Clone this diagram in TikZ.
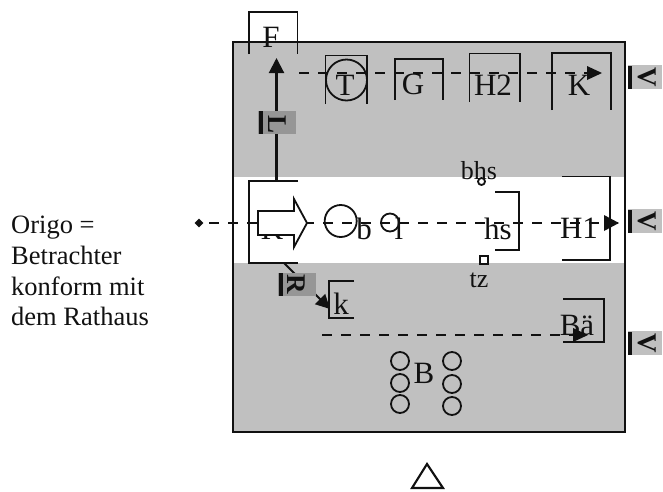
\documentclass[tikz,border=0pt]{standalone}
\usepackage{fontspec}
\setmainfont{Liberation Serif}
\usetikzlibrary{arrows.meta,shapes.geometric}
\definecolor{band}{HTML}{C0C0C0}
\definecolor{tag}{HTML}{969696}
\definecolor{ink}{HTML}{111111}
\tikzset{
  x=1pt,y=-1pt,
  ln/.style={draw=ink,line width=2.1pt},
  brk/.style={draw=ink,line width=1.8pt},
  dashline/.style={draw=ink,line width=2.5pt,dash pattern=on 10pt off 9pt},
  tipped/.style={-{Triangle[length=15pt,width=15pt]}},
  big/.style={inner sep=0pt,anchor=base,text=ink,font=\fontsize{31}{31}\selectfont},
  small/.style={inner sep=0pt,anchor=base,text=ink,font=\fontsize{26}{26}\selectfont},
  side/.style={inner sep=0pt,anchor=base west,text=ink,font=\fontsize{26.5}{26.5}\selectfont},
  ring/.style={circle,draw=ink,line width=1.8pt,inner sep=0pt,fill=none},
  tagbox/.style={fill=tag,inner sep=0pt,minimum width=38pt,minimum height=23pt},
  tagv/.style={fill=band,inner sep=0pt,minimum width=34pt,minimum height=24pt},
  bar/.style={fill=ink,inner sep=0pt,minimum width=4pt,minimum height=23pt},
  rot/.style={inner sep=0pt,text=ink,font=\bfseries\fontsize{27}{27}\selectfont}
}
\begin{document}
\begin{tikzpicture}
\useasboundingbox (0,0) rectangle (663,491);
% bands
\fill[band] (233,42) rectangle (624,177);
\fill[band] (233,263) rectangle (624,432);
\draw[ln] (233,42) rectangle (625,432);
% F
\draw[brk] (249,54) -- (249,12) -- (297.5,12) -- (297.5,54);
\node[big] (F) at (271,47) {F};
% vertical arrow
\coordinate (ftop) at (276.5,58);
\coordinate (rtop) at (276.5,181);
\draw[ln,tipped] (rtop) -- (ftop);
% top row
\draw[brk] (325.5,104) -- (325.5,55.5) -- (367,55.5) -- (367,104);
\node[ring,minimum size=41pt] (tc) at (346.5,80) {};
\node[big] (T) at (345,95) {T};
\draw[brk] (395,100) -- (395,59) -- (443,59) -- (443,100);
\node[big] (G) at (413,94) {G};
\draw[brk] (469.5,102) -- (469.5,53.5) -- (520,53.5) -- (520,102);
\node[big] (H2) at (493,95) {H2};
\draw[brk] (552,110) -- (552,53) -- (611,53) -- (611,110);
\node[big] (K) at (579,95) {K};
\coordinate (d1a) at (299,73);
\coordinate (d1b) at (602,73);
\draw[dashline] (d1a) -- (d1b);
\draw[draw=none,fill=ink] (602,73) -- (587,66) -- (587,80) -- cycle;
% middle row
\node[big] (Rr) at (272,239) {K};
\draw[brk] (298,181) -- (249,181) -- (249,263) -- (298,263);
\draw[brk] (495,192) -- (519,192) -- (519,250) -- (495,250);
\draw[brk] (562,176.5) -- (610,176.5) -- (610,260) -- (562,260);
\node[big] (hs) at (498,239) {hs};
\node[big] (H1) at (579,238) {H1};
\node[ring,minimum size=32pt] (cb) at (340.7,221) {};
\node[ring,minimum size=18pt] (cl) at (390,222.5) {};
\node[big] (b) at (364,239) {b};
\node[big] (l) at (399,239) {l};
\node[diamond,fill=ink,inner sep=0pt,minimum size=9pt] (dm) at (199,223) {};
\coordinate (d2a) at (209,223);
\coordinate (d2b) at (619,223);
\draw[dashline] (d2a) -- (d2b);
\draw[draw=none,fill=ink] (619,223) -- (604,215) -- (604,231) -- cycle;
\draw[brk,fill=white] (258,211) -- (294,211) -- (294,199) -- (307,223) -- (294,247) -- (294,235) -- (258,235) -- cycle;
% bhs, tz
\node[small] (bhs) at (479,179) {bhs};
\node[ring,minimum size=7pt] (bc) at (481.5,181.5) {};
\node[draw=ink,line width=1.6pt,inner sep=0pt,minimum size=7.5pt] (tzs) at (484,260) {};
\node[small] (tz) at (479,287) {tz};
% k and arrow
\coordinate (ra) at (284,263);
\coordinate (ka) at (330,309);
\draw[ln,-{Triangle[length=14pt,width=14pt]}] (ra) -- (ka);
\draw[brk] (354,281) -- (329,281) -- (329,318) -- (354,318);
\node[big] (k) at (341,314) {k};
% Bae
\draw[brk] (563,299) -- (604,299) -- (604,342) -- (563,342);
\node[big] (Ba) at (577,335) {Bä};
\coordinate (d3a) at (322,335);
\coordinate (d3b) at (588,335);
\draw[dashline] (d3a) -- (d3b);
\draw[draw=none,fill=ink] (588,335) -- (573,328) -- (573,342) -- cycle;
% B
\node[big] (B) at (424,383) {B};
\foreach \n/\x/\y in {a/400/361,c/400/383,e/400/404,g/452/361,h/452/384,i/452/406}
  \node[ring,minimum size=18pt] (\n) at (\x,\y) {};
% triangle
\draw[ln] (427,464) -- (412,488) -- (443,488) -- cycle;
% tags
\node[tagbox] (t1) at (277,122.5) {};
\node[bar] at (261,122.5) {};
\node[rot,rotate=-90] at (277,124) {L};
\node[tagbox] (t2) at (297,284) {};
\node[bar] at (281,284) {};
\node[rot,rotate=-90] at (296,284) {R};
\foreach \n/\y in {v1/77,v2/221,v3/343}{
  \node[tagv] (\n) at (645,\y) {};
  \node[bar] at (630,\y) {};
  \node[rot,rotate=-90] at (647,\y) {V};
}
% side text
\node[side] (s1) at (11,233.5) {Origo =};
\node[side] (s2) at (11,264.5) {Betrachter};
\node[side] (s3) at (11,295) {konform mit};
\node[side] (s4) at (11,325) {dem Rathaus};
\end{tikzpicture}
\end{document}
